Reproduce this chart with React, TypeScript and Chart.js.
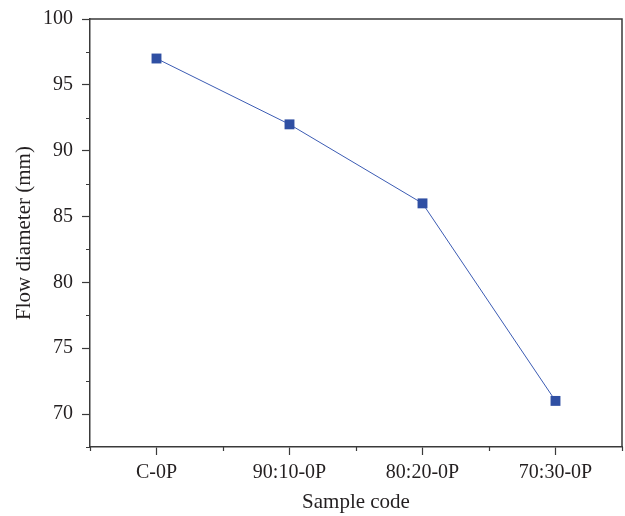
import React, { useEffect, useRef } from "react";
import { Chart, registerables } from "chart.js";

Chart.register(...registerables);

const categories = ["C-0P", "90:10-0P", "80:20-0P", "70:30-0P"];
const flowDiameter = [97, 92, 86, 71];
const yMin = 67.5;
const yMax = 100;
const yStep = 2.5;

const AXIS = "#3a3a3a";
const TEXT = "#231f20";
const FONT = "'Liberation Serif', 'Times New Roman', serif";

const framePlugin = {
  id: "frame",
  afterDraw(chart: any) {
    const { ctx, chartArea } = chart;
    const xs = chart.scales.x;
    const ys = chart.scales.y;
    ctx.save();
    ctx.strokeStyle = AXIS;
    ctx.lineWidth = 1.5;
    ctx.beginPath();
    ctx.moveTo(chartArea.left, chartArea.top);
    ctx.lineTo(chartArea.right, chartArea.top);
    ctx.lineTo(chartArea.right, chartArea.bottom);
    ctx.stroke();
    ctx.lineWidth = 1.2;
    ctx.beginPath();
    for (let v = yMin; v <= yMax + 1e-6; v += yStep) {
      if (Math.abs(v / 5 - Math.round(v / 5)) < 1e-6) continue;
      const py = Math.round(ys.getPixelForValue(v)) + 0.5;
      ctx.moveTo(chartArea.left, py);
      ctx.lineTo(chartArea.left - 4, py);
    }
    const n = categories.length;
    for (let i = 0; i <= n; i++) {
      const p0 = xs.getPixelForValue(Math.max(0, i - 1));
      const p1 = xs.getPixelForValue(Math.min(n - 1, i));
      let px;
      if (i === 0) px = chartArea.left;
      else if (i === n) px = chartArea.right;
      else px = (p0 + p1) / 2;
      px = Math.round(px) + 0.5;
      ctx.moveTo(px, chartArea.bottom);
      ctx.lineTo(px, chartArea.bottom + 4);
    }
    ctx.stroke();
    ctx.restore();
  },
};

export default function App() {
  const ref = useRef<HTMLCanvasElement | null>(null);
  useEffect(() => {
    if (!ref.current) return;
    const chart = new Chart(ref.current, {
      type: "line",
      data: {
        labels: categories,
        datasets: [
          {
            data: flowDiameter,
            borderColor: "#3b5bb3",
            borderWidth: 1,
            backgroundColor: "#2f4fa3",
            pointBackgroundColor: "#2f4fa3",
            pointBorderColor: "#2f4fa3",
            pointBorderWidth: 0,
            pointStyle: "rect",
            pointRadius: 7,
            tension: 0,
          },
        ],
      },
      options: {
        responsive: false,
        animation: false,
        devicePixelRatio: 1,
        layout: { autoPadding: false, padding: { top: 19, right: 3, left: 0, bottom: 0 } },
        plugins: {
          legend: { display: false },
          tooltip: { enabled: false },
        },
        scales: {
          x: {
            type: "category",
            offset: true,
            grid: {
              display: true,
              drawOnChartArea: false,
              drawTicks: true,
              tickLength: 8,
              tickColor: AXIS,
              tickWidth: 1.2,
              offset: false,
            },
            border: { display: true, color: AXIS, width: 1.5 },
            ticks: {
              color: TEXT,
              font: { family: FONT, size: 20 },
              padding: 6,
              autoSkip: false,
              maxRotation: 0,
            },
            title: {
              display: true,
              text: "Sample code",
              color: TEXT,
              font: { family: FONT, size: 21 },
              padding: { top: 0, bottom: 1 },
            },
            afterFit(scale: any) {
              scale.height = 69;
              scale.paddingLeft = 0;
              scale.paddingRight = 0;
            },
          },
          y: {
            type: "linear",
            min: yMin,
            max: yMax,
            grid: {
              display: true,
              drawOnChartArea: false,
              drawTicks: true,
              tickLength: 8,
              tickWidth: 1.2,
              tickColor: (c: any) =>
                Math.abs(c.tick.value / 5 - Math.round(c.tick.value / 5)) < 1e-6
                  ? AXIS
                  : "rgba(0,0,0,0)",
            },
            border: { display: true, color: AXIS, width: 1.5 },
            ticks: {
              stepSize: yStep,
              autoSkip: false,
              color: TEXT,
              font: { family: FONT, size: 20 },
              padding: 9,
              callback: (v: any) =>
                Math.abs(v / 5 - Math.round(v / 5)) < 1e-6 ? String(v) : "",
            },
            title: {
              display: true,
              text: "Flow diameter (mm)",
              color: TEXT,
              font: { family: FONT, size: 21 },
              padding: { top: 12, bottom: 0 },
            },
            afterFit(scale: any) {
              scale.width = 90;
              scale.paddingTop = 0;
              scale.paddingBottom = 0;
            },
          },
        },
      },
      plugins: [framePlugin],
    } as any);
    return () => chart.destroy();
  }, []);
  return (
    <div style={{ position: "absolute", left: 0, top: 0, width: 625, height: 516, background: "#fff" }}>
      <canvas ref={ref} width={625} height={516} style={{ width: 625, height: 516 }} />
    </div>
  );
}
